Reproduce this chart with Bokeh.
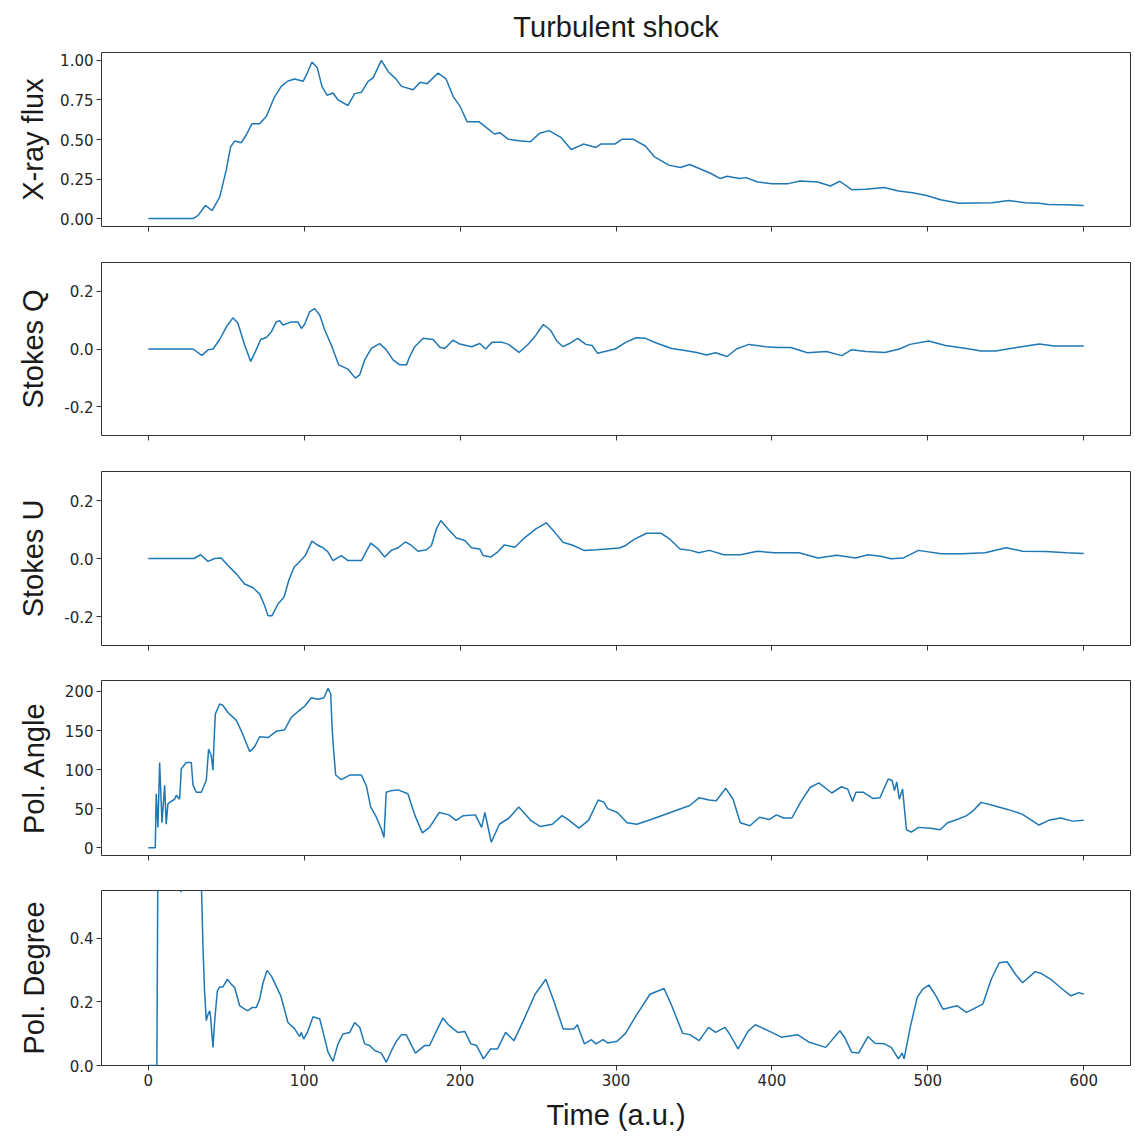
from bokeh.plotting import figure
from bokeh.layouts import column
from bokeh.models import Range1d, FixedTicker, NumeralTickFormatter, CustomLabelingPolicy
from bokeh.embed import file_html
from bokeh.resources import INLINE

title_text = "Turbulent shock"
x_label = "Time (a.u.)"
x_ticks = [0, 100, 200, 300, 400, 500, 600]

# X-ray flux
flux_t = [0, 28.7, 32, 36.6, 40.9, 45.8, 50, 52.8, 55.4, 59.7, 62.9, 66.5, 71.4, 75.7, 81, 85.3, 89.6, 93.9,
          99.3, 102, 105, 108.4, 111.4, 114.6, 118.5, 121.7, 128.1, 132.4, 136.7, 141, 144.2, 149.5, 153.8,
          159.1, 162.4, 169.9, 174.4, 178.9, 185.9, 191, 195.5, 200, 204.5, 212, 216.5, 222, 225.5, 231,
          237.6, 245.1, 251.1, 257.1, 264.6, 271.3, 279.1, 287.2, 290.2, 299.2, 303.7, 311.2, 318.8, 324.8,
          333.8, 341.3, 347.3, 354.9, 360.9, 366.9, 371.4, 378.9, 383.4, 390.9, 400, 410.5, 418, 429.4,
          437.5, 443.6, 451.1, 460.1, 472.1, 481.1, 490.2, 499.2, 508.2, 520.2, 541.3, 551.8, 562.3, 571.4,
          577.4, 589.4, 600]
flux_v = [0, 0, 0.02, 0.083, 0.051, 0.136, 0.306, 0.454, 0.49, 0.48, 0.53, 0.60, 0.60, 0.645, 0.77, 0.836,
          0.87, 0.883, 0.868, 0.92, 0.99, 0.953, 0.836, 0.78, 0.794, 0.75, 0.715, 0.79, 0.798, 0.868, 0.89,
          1.0, 0.93, 0.88, 0.836, 0.815, 0.862, 0.853, 0.92, 0.883, 0.773, 0.709, 0.613, 0.613, 0.578,
          0.535, 0.543, 0.501, 0.492, 0.486, 0.54, 0.556, 0.514, 0.437, 0.471, 0.45, 0.471, 0.471, 0.501,
          0.501, 0.459, 0.39, 0.338, 0.323, 0.342, 0.31, 0.285, 0.253, 0.268, 0.253, 0.259, 0.231, 0.221,
          0.221, 0.238, 0.231, 0.206, 0.236, 0.183, 0.185, 0.196, 0.174, 0.164, 0.146, 0.119, 0.097, 0.10,
          0.115, 0.10, 0.097, 0.089, 0.087, 0.083]

# Stokes Q
q_t = [0, 28.7, 34.4, 38.3, 41.5, 45.8, 50.1, 54.3, 57.5, 61.8, 65.7, 68.7, 72.1, 75.7, 79, 82.1, 84.3, 86.4,
       91.8, 96, 98.2, 100.3, 103.5, 106.7, 110, 113.2, 117.4, 122.1, 128.1, 132.8, 135.6, 138.8, 143.1,
       148.4, 152.7, 157, 161.3, 165.6, 167.7, 170.9, 176.3, 182.7, 187, 190.2, 195.5, 199.8, 207.3,
       212.6, 216.4, 220.4, 227.1, 231.1, 237.8, 243.2, 248.6, 253.4, 257.9, 262, 266, 270.5, 275.4,
       280.7, 284.7, 288.2, 292.8, 299.5, 306.2, 312.9, 318.8, 326.3, 335.7, 345.1, 351.8, 357.9, 363.8,
       371.3, 377.2, 385.3, 396, 404, 412.1, 422.8, 434.9, 444.8, 451, 460.4, 472.4, 481.8, 488.5, 500.6,
       511.3, 524.7, 534.1, 543.5, 556.9, 571.6, 581, 591.7, 600]
q_v = [0, 0, -0.022, -0.003, 0, 0.033, 0.077, 0.108, 0.089, 0.014, -0.043, -0.009, 0.033, 0.04, 0.06, 0.094,
       0.098, 0.083, 0.094, 0.094, 0.071, 0.086, 0.129, 0.14, 0.117, 0.066, 0.014, -0.055, -0.07, -0.101,
       -0.09, -0.038, 0.002, 0.019, -0.003, -0.038, -0.055, -0.055, -0.026, 0.008, 0.037, 0.033, 0.006,
       0.002, 0.031, 0.017, 0.008, 0.019, 0.0, 0.023, 0.023, 0.016, -0.012, 0.014, 0.048, 0.085, 0.066,
       0.028, 0.008, 0.02, 0.037, 0.016, 0.012, -0.015, -0.009, 0.0, 0.023, 0.039, 0.037, 0.02, 0.002,
       -0.006, -0.012, -0.021, -0.013, -0.026, 0.0, 0.016, 0.008, 0.005, 0.005, -0.013, -0.009, -0.023,
       -0.003, -0.009, -0.012, 0.0, 0.016, 0.028, 0.012, 0.002, -0.007, -0.007, 0.005, 0.017, 0.01, 0.01,
       0.01]

# Stokes U
u_t = [0, 29.3, 33.6, 38.3, 42.6, 46.8, 51.1, 56.5, 61.8, 67.2, 71.4, 74.6, 76.8, 79.4, 83.2, 87.1, 90.1,
       93.5, 97.8, 100.7, 105, 108.9, 112.1, 115.3, 118.5, 123.8, 128.1, 132.4, 136.7, 142.7, 147.4, 151.7,
       155.9, 160.2, 164.9, 168.8, 173, 178.4, 181.6, 184.8, 187.6, 192.3, 197.6, 203, 207.3, 212.6,
       214.8, 219.6, 224.4, 228.4, 235.1, 241.9, 248.6, 255.3, 260.6, 266, 272.7, 279.4, 287.4, 294.1,
       302.2, 306.2, 311.6, 319.6, 329, 334.3, 341, 347.8, 353.1, 359.8, 369.2, 379.9, 390.6, 401.4,
       417.4, 429.5, 441.6, 453.6, 461.7, 469.7, 476.4, 484.5, 493.9, 508.6, 522, 536.8, 550.2, 560.9,
       575.6, 589, 600]
u_v = [0, 0, 0.013, -0.01, 0, 0.002, -0.024, -0.053, -0.088, -0.101, -0.122, -0.162, -0.197, -0.197,
       -0.157, -0.133, -0.076, -0.03, -0.007, 0.01, 0.06, 0.045, 0.037, 0.022, -0.007, 0.01, -0.007,
       -0.007, -0.007, 0.053, 0.033, 0.005, 0.028, 0.037, 0.057, 0.045, 0.025, 0.03, 0.045, 0.102, 0.131,
       0.102, 0.071, 0.062, 0.037, 0.033, 0.01, 0.005, 0.024, 0.047, 0.039, 0.074, 0.102, 0.123, 0.091,
       0.056, 0.045, 0.028, 0.03, 0.033, 0.036, 0.045, 0.066, 0.087, 0.087, 0.068, 0.033, 0.028, 0.02,
       0.028, 0.013, 0.013, 0.025, 0.02, 0.02, 0.002, 0.011, 0.002, 0.013, 0.008, -0.001, 0.002, 0.028,
       0.016, 0.016, 0.02, 0.037, 0.025, 0.024, 0.02, 0.017]

# Pol. Angle
ang_t = [0, 4.5, 5.1, 6.2, 7.3, 8.8, 10.5, 11.5, 12.6, 13.7, 16.9, 18, 20.1, 21.2, 24.4, 27.6, 28.7, 30.8,
         34, 37.2, 38.7, 40.4, 41.5, 42.1, 43, 45.8, 47.9, 51.1, 56.5, 60.7, 65, 68.2, 71.4, 76.8, 82.1,
         87.5, 91.8, 97.1, 100.3, 104.6, 108.9, 112.7, 115.3, 117, 117.9, 118.9, 120.2, 123.8, 129.2,
         136.7, 139.9, 142.7, 146.3, 149.5, 151.2, 152.6, 155.7, 160.3, 166.5, 171.1, 175.8, 180.4, 186.6,
         192.8, 197.4, 202, 209.8, 213.8, 215.9, 220, 225.2, 231.4, 237.6, 245.3, 251.5, 259.2, 265.4,
         270, 276.2, 282.4, 288.6, 292.3, 294.7, 300.9, 307.1, 313.3, 322.5, 334.9, 347.3, 353.4, 359.6,
         364.3, 370.4, 375.1, 379.7, 385.9, 392.1, 398.2, 402.9, 407.5, 412.8, 418.3, 424.5, 430.1, 438.4,
         444.6, 448.6, 451.7, 453.9, 458.5, 464.7, 469.3, 474.6, 477.1, 478.6, 480.1, 481.7, 483.8, 486.3,
         489.4, 494, 501.8, 507.9, 512.6, 518.8, 524.9, 528.9, 534.2, 541.9, 551.2, 560.5, 571.3, 577.5,
         585.2, 592.9, 600]
ang_v = [0, 0, 69, 26, 109, 32, 80, 30, 56, 58, 62, 67, 62, 101, 109, 109, 80, 71, 71, 86, 126, 118, 99,
         133, 171, 184, 182, 173, 163, 145, 123, 129, 142, 141, 149, 151, 167, 176, 181, 192, 190, 192, 204,
         197, 154, 124, 93, 87, 93, 93, 79, 52, 39, 24, 13, 71, 73, 74, 69, 41, 19, 26, 45, 42, 35, 41, 42,
         26, 45, 7, 30, 38, 52, 35, 27, 30, 41, 35, 25, 35, 61, 58, 50, 45, 32, 30, 36, 45, 54, 64, 61, 60,
         76, 62, 32, 28, 39, 36, 42, 38, 38, 58, 77, 83, 70, 78, 75, 59, 71, 71, 63, 64, 88, 86, 73, 84, 62,
         75, 23, 20, 26, 25, 23, 32, 36, 41, 47, 58, 54, 49, 43, 29, 35, 38, 34, 35]

# Pol. Degree
deg_t = [0, 5.5, 6.5, 12, 18, 21, 24, 30, 34, 35.1, 36.1, 37.2, 38.3, 39.4, 40, 41.5, 42.6, 44.3, 45.8,
         47.9, 50.7, 53.3, 55.4, 58.6, 61.8, 64, 66.5, 69.3, 71.4, 73.6, 76.2, 79, 81.5, 85, 89.6, 93.9,
         97.1, 98.2, 99.7, 102, 105.7, 110, 112.7, 115.3, 118.5, 121.7, 124.9, 129.2, 132.4, 135.6, 138.8,
         142, 145.2, 149.5, 152.7, 156, 159.1, 162.4, 165.4, 171.4, 177.4, 180.4, 184.9, 188.9, 192.5,
         198.5, 203, 206.9, 210.5, 215, 219.5, 224, 229.2, 234.6, 240.6, 248.1, 255, 260.1, 266.1, 273.1,
         275.2, 279.7, 284.2, 287.2, 291.7, 294.7, 300.7, 306.1, 312.8, 321.8, 330.8, 335.3, 342.8, 347.3,
         353.3, 359.4, 363.9, 369.9, 372.9, 378.3, 384.9, 389.4, 399.9, 406, 416.5, 424, 434.5, 443.6,
         446.6, 451.1, 455.6, 461.6, 466.1, 472.1, 476.6, 481.1, 483.5, 484.8, 488.7, 493.2, 496.8, 500.7,
         505.2, 509.7, 518.7, 524.8, 535.3, 540.7, 545.8, 550.9, 556.3, 560.8, 568.9, 572.9, 578.9, 585.8,
         591.8, 596.9, 600]
deg_v = [0, 0, 0.95, 0.85, 0.65, 0.545, 0.65, 0.9, 0.585, 0.37, 0.234, 0.141, 0.161, 0.172, 0.151, 0.057,
         0.141, 0.234, 0.247, 0.247, 0.271, 0.255, 0.245, 0.188, 0.177, 0.172, 0.182, 0.182, 0.208, 0.26,
         0.299, 0.281, 0.255, 0.219, 0.135, 0.115, 0.091, 0.104, 0.083, 0.104, 0.153, 0.146, 0.094, 0.042,
         0.013, 0.068, 0.099, 0.104, 0.135, 0.12, 0.068, 0.063, 0.047, 0.039, 0.01, 0.047, 0.076, 0.097,
         0.097, 0.039, 0.063, 0.063, 0.109, 0.149, 0.128, 0.104, 0.107, 0.068, 0.063, 0.021, 0.052, 0.052,
         0.104, 0.078, 0.141, 0.224, 0.271, 0.203, 0.115, 0.115, 0.128, 0.068, 0.081, 0.068, 0.081, 0.071,
         0.076, 0.101, 0.156, 0.224, 0.242, 0.193, 0.101, 0.097, 0.078, 0.12, 0.104, 0.12, 0.099, 0.052,
         0.109, 0.128, 0.104, 0.089, 0.097, 0.073, 0.057, 0.109, 0.089, 0.042, 0.039, 0.091, 0.07, 0.068,
         0.057, 0.021, 0.039, 0.021, 0.12, 0.214, 0.24, 0.253, 0.219, 0.177, 0.188, 0.167, 0.193, 0.271,
         0.323, 0.326, 0.286, 0.26, 0.295, 0.289, 0.271, 0.242, 0.219, 0.229, 0.224]

LINE = "#1f77b4"
TICK_FONT = "DejaVu Sans"
LABEL_FONT = "Liberation Sans"
x_range = Range1d(-30, 630)


def make_panel(t, v, ylabel, yticks, yfmt, yr, frame_h, top, bottom, label_standoff, last=False):
    p = figure(frame_width=1029, frame_height=frame_h, x_range=x_range, y_range=Range1d(*yr),
               output_backend="svg", toolbar_location=None,
               min_border_left=101, min_border_right=5, min_border_top=top, min_border_bottom=bottom)
    p.line(t, v, line_color=LINE, line_width=1.5)
    p.grid.visible = False
    p.outline_line_color = "#333333"
    p.outline_line_width = 1
    p.background_fill_color = "white"
    p.border_fill_color = "white"
    for ax in (p.xaxis[0], p.yaxis[0]):
        ax.axis_line_color = None
        ax.major_tick_out = 5
        ax.major_tick_in = 0
        ax.major_tick_line_color = "#333333"
        ax.minor_tick_line_color = None
        ax.major_label_text_font = TICK_FONT
        ax.major_label_text_font_size = "15px"
        ax.major_label_text_color = "#262626"
        ax.major_label_standoff = 3
        ax.axis_label_text_font = LABEL_FONT
        ax.axis_label_text_font_style = "normal"
        ax.axis_label_text_font_size = "29px"
        ax.axis_label_text_color = "#1a1a1a"
    p.yaxis[0].ticker = FixedTicker(ticks=yticks)
    p.yaxis[0].formatter = NumeralTickFormatter(format=yfmt)
    p.yaxis[0].axis_label = ylabel
    p.yaxis[0].axis_label_standoff = label_standoff
    p.xaxis[0].ticker = FixedTicker(ticks=x_ticks)
    if last:
        p.xaxis[0].axis_label = x_label
        p.xaxis[0].axis_label_standoff = 10
    else:
        # shared time axis: tick marks only, labels shown on the bottom panel
        p.xaxis[0].major_label_text_font_size = "0px"
        p.xaxis[0].major_label_standoff = 0
        p.xaxis[0].major_label_policy = CustomLabelingPolicy(code="return new Set()")
    return p


p1 = make_panel(flux_t, flux_v, "X-ray flux", [0, 0.25, 0.5, 0.75, 1.0], "0.00", (-0.05, 1.05), 174, 52, 18, 8)
p1.title.text = title_text
p1.title.align = "center"
p1.title.vertical_align = "top"
p1.title.text_font = LABEL_FONT
p1.title.text_font_style = "normal"
p1.title.text_font_size = "29px"
p1.title.text_color = "#1a1a1a"
p1.title.standoff = 16
p2 = make_panel(q_t, q_v, "Stokes Q", [-0.2, 0, 0.2], "0.0", (-0.3, 0.3), 173, 18, 18, 12)
p3 = make_panel(u_t, u_v, "Stokes U", [-0.2, 0, 0.2], "0.0", (-0.3, 0.3), 174, 18, 17, 12)
p4 = make_panel(ang_t, ang_v, "Pol. Angle", [0, 50, 100, 150, 200], "0", (-10, 214), 175, 18, 17, 12)
p5 = make_panel(deg_t, deg_v, "Pol. Degree", [0, 0.2, 0.4], "0.0", (0, 0.55), 175, 18, 70, 17, last=True)

layout = column(p1, p2, p3, p4, p5, spacing=0)
open("out.html", "w").write(file_html(layout, INLINE))
